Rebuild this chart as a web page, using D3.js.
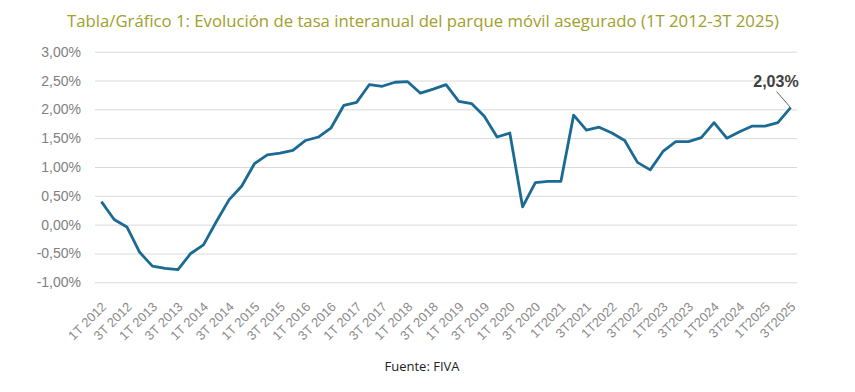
<!DOCTYPE html>
<html>
<head>
<meta charset="utf-8">
<script src="https://cdn.jsdelivr.net/npm/d3@7"></script>
<style>
  body { margin: 0; background: #fff; }
  svg { display: block; }
</style>
</head>
<body>
<script>
// quarters, 1T 2012 .. 3T 2025 (labels from 2021 on are written without space)
const quarters = [
  "1T 2012","2T 2012","3T 2012","4T 2012","1T 2013","2T 2013","3T 2013","4T 2013",
  "1T 2014","2T 2014","3T 2014","4T 2014","1T 2015","2T 2015","3T 2015","4T 2015",
  "1T 2016","2T 2016","3T 2016","4T 2016","1T 2017","2T 2017","3T 2017","4T 2017",
  "1T 2018","2T 2018","3T 2018","4T 2018","1T 2019","2T 2019","3T 2019","4T 2019",
  "1T 2020","2T 2020","3T 2020","4T 2020","1T2021","2T2021","3T2021","4T2021",
  "1T2022","2T2022","3T2022","4T2022","1T2023","2T2023","3T2023","4T2023",
  "1T2024","2T2024","3T2024","4T2024","1T2025","2T2025","3T2025"
];

// tasa interanual (%)
const tasa = [
  0.40, 0.09, -0.04, -0.48, -0.72, -0.76, -0.78, -0.50,
  -0.35, 0.05, 0.43, 0.67, 1.06, 1.21, 1.24, 1.29,
  1.46, 1.52, 1.68, 2.07, 2.12, 2.43, 2.40, 2.47,
  2.48, 2.28, 2.35, 2.43, 2.14, 2.10, 1.88, 1.52,
  1.59, 0.31, 0.73, 0.75, 0.75, 1.90, 1.64, 1.69,
  1.59, 1.46, 1.08, 0.95, 1.27, 1.44, 1.44, 1.51,
  1.77, 1.50, 1.61, 1.71, 1.71, 1.77, 2.03
];

const yTicks = [-1, -0.5, 0, 0.5, 1, 1.5, 2, 2.5, 3];
const xTickLabels = quarters.filter((q, i) => i % 2 == 0);

const width = 855, height = 392;
const margin = {top: 51.7, right: 58, bottom: 109.7, left: 95};

const svg = d3.select("body").append("svg")
    .attr("width", width)
    .attr("height", height);

const x = d3.scalePoint()
    .domain(quarters)
    .range([margin.left, width - margin.right])
    .padding(0.5);

const y = d3.scaleLinear()
    .domain([-1, 3])
    .range([height - margin.bottom, margin.top]);

// spanish format, plain hyphen for negatives
const fmt = v => (v < 0 ? "-" : "") + Math.abs(v).toFixed(2).replace(".", ",") + "%";

// title
svg.append("text")
    .attr("x", 67)
    .attr("y", 27)
    .attr("textLength", 712)
    .attr("lengthAdjust", "spacingAndGlyphs")
    .style("font-family", "'Open Sans', sans-serif")
    .style("font-size", "17px")
    .style("fill", "#a0a02a")
    .text("Tabla/Gráfico 1: Evolución de tasa interanual del parque móvil asegurado (1T 2012-3T 2025)");

// gridlines
const yAxis = d3.axisLeft(y)
    .tickValues(yTicks)
    .tickSize(-(width - margin.left - margin.right))
    .tickPadding(14)
    .tickFormat(fmt);

const gy = svg.append("g")
    .attr("transform", "translate(" + margin.left + ",0)")
    .call(yAxis);
gy.select(".domain").remove();
gy.selectAll(".tick line").attr("stroke", "#d9d9d9").attr("stroke-width", 1);
gy.selectAll(".tick text")
    .style("font-family", "'Liberation Sans', Arial, sans-serif")
    .style("font-size", "14px")
    .style("fill", "#808080");

// x axis labels
const xAxis = d3.axisBottom(x)
    .tickValues(xTickLabels)
    .tickSize(0)
    .tickPadding(0);

const gx = svg.append("g")
    .attr("transform", "translate(0," + y(-1) + ")")
    .call(xAxis);
gx.select(".domain").remove();
gx.selectAll(".tick text")
    .attr("text-anchor", "end")
    .attr("y", null)
    .attr("transform", "translate(2,22) rotate(-45)")
    .attr("dy", "0.35em")
    .style("font-family", "'Liberation Sans', Arial, sans-serif")
    .style("font-size", "13px")
    .style("fill", "#8c8c8c");

// line
const line = d3.line()
    .x((d, i) => x(quarters[i]))
    .y(d => y(d));

svg.append("path")
    .datum(tasa)
    .attr("fill", "none")
    .attr("stroke", "#1b6a94")
    .attr("stroke-width", 2.8)
    .attr("stroke-linejoin", "round")
    .attr("d", line);

// last value label
const lastI = tasa.length - 1;
const lx = x(quarters[lastI]), ly = y(tasa[lastI]);
svg.append("line")
    .attr("x1", lx - 14).attr("y1", ly - 16)
    .attr("x2", lx).attr("y2", ly)
    .attr("stroke", "#404040")
    .attr("stroke-width", 0.8);
svg.append("text")
    .attr("x", lx + 8)
    .attr("y", ly - 21)
    .attr("text-anchor", "end")
    .style("font-family", "'Liberation Sans', Arial, sans-serif")
    .style("font-size", "16px")
    .style("font-weight", "bold")
    .style("fill", "#404040")
    .text(fmt(tasa[lastI]));

// source
svg.append("text")
    .attr("x", 422)
    .attr("y", 371)
    .attr("text-anchor", "middle")
    .style("font-family", "'Open Sans', sans-serif")
    .style("font-size", "13px")
    .style("fill", "#222")
    .text("Fuente: FIVA");
</script>
</body>
</html>
